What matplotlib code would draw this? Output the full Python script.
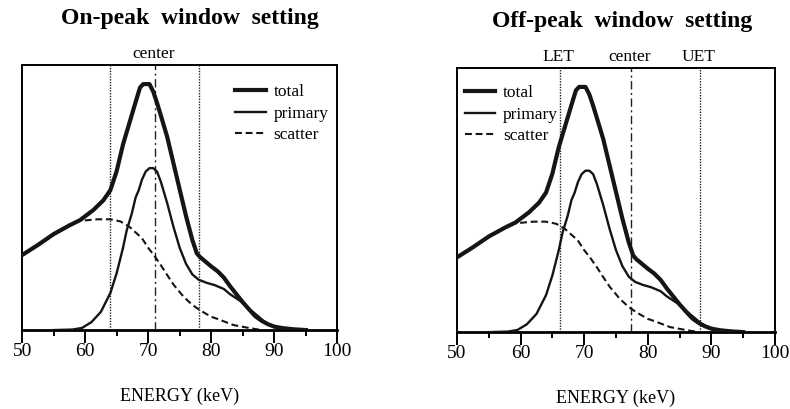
import matplotlib
matplotlib.use("Agg")
import matplotlib.pyplot as plt

plt.rcParams['font.family'] = ['Liberation Serif', 'DejaVu Serif']

# energy spectra (arbitrary units, axis height = 1)
energy_total = [50, 52.5, 55, 57.5, 59.2, 61.3, 62.9, 64, 65, 66, 67, 68, 68.7, 69.2, 70.2, 70.8,
                71.4, 72, 73, 74, 75, 75.5, 76, 77, 77.7, 78.2, 79, 80, 81, 82, 83, 84, 85, 86,
                87, 88, 89, 90, 91.4, 93, 95]
total = [0.283, 0.321, 0.362, 0.395, 0.415, 0.453, 0.49, 0.528, 0.60, 0.70, 0.78, 0.86, 0.915,
         0.928, 0.928, 0.90, 0.857, 0.81, 0.73, 0.63, 0.53, 0.48, 0.43, 0.34, 0.29, 0.276, 0.26,
         0.24, 0.222, 0.198, 0.165, 0.135, 0.105, 0.078, 0.052, 0.035, 0.022, 0.013, 0.007,
         0.003, 0.0]

energy_primary = [55, 58, 59.5, 61, 62.5, 64, 65, 66, 66.6, 67.4, 68, 68.5, 69, 69.6, 70.2, 70.8,
                  71.4, 72, 73, 74, 75, 76, 77, 78, 79.3, 80.5, 82, 83, 84.6, 86, 87.3, 88.5, 90,
                  92, 95]
primary = [0.0, 0.002, 0.008, 0.03, 0.069, 0.14, 0.215, 0.31, 0.377, 0.44, 0.50, 0.528, 0.567,
           0.598, 0.611, 0.611, 0.598, 0.56, 0.48, 0.39, 0.31, 0.25, 0.21, 0.19, 0.178, 0.17,
           0.155, 0.135, 0.11, 0.08, 0.055, 0.03, 0.012, 0.003, 0.0]

energy_scatter = [58.3, 59.2, 62, 64, 65.6, 67, 67.6, 69, 70, 70.9, 72, 73, 74, 75.6, 77, 78.2, 80,
                  81, 83.5, 86.2, 88]
scatter = [0.405, 0.412, 0.418, 0.418, 0.41, 0.39, 0.377, 0.347, 0.31, 0.283, 0.245, 0.208, 0.172,
           0.126, 0.095, 0.075, 0.05, 0.042, 0.019, 0.007, 0.0]

titles = ['On-peak  window  setting', 'Off-peak  window  setting']
dash_dot = (0, (6, 2.5, 1.5, 2.5))
dotted = (0, (1, 1))
# (position, style, label) of window marker lines
windows = [
    [(64, dotted, ''), (71, dash_dot, 'center'), (78, dotted, '')],
    [(66.2, dotted, 'LET'), (77.3, dash_dot, 'center'), (88.2, dotted, 'UET')],
]
label_x = [[None, 70.8, None], [65.9, 77.2, 87.9]]
legend_anchor = [(0.676, 0.928), (0.025, 0.935)]
axes_pos = [[0.028, 0.193, 0.399, 0.648], [0.5785, 0.188, 0.4025, 0.646]]
title_pos = [(0.240, 0.955), (0.787, 0.948)]

fig = plt.figure(figsize=(7.9, 4.09), dpi=100)

for i in range(2):
    ax = fig.add_axes(axes_pos[i])
    ax.plot(energy_total, total, color='#151515', lw=3.0, label='total', zorder=3,
            solid_joinstyle='round')
    ax.plot(energy_primary, primary, color='#151515', lw=1.7, label='primary', zorder=3,
            solid_joinstyle='round')
    ax.plot(energy_scatter, scatter, color='#151515', lw=1.5, ls=(0, (3.3, 1.8)), label='scatter',
            zorder=2.5)
    for j, (x, style, lab) in enumerate(windows[i]):
        ax.axvline(x, color='#222222', lw=1.0, ls=style, zorder=2)
        if lab:
            ax.text(label_x[i][j], 1.012, lab, ha='center', va='bottom', fontsize=12.5,
                    transform=ax.get_xaxis_transform())
    ax.set_xlim(50, 100)
    ax.set_ylim(0, 1)
    ax.set_xticks(range(50, 101, 10))
    ax.set_xticks(range(55, 100, 10), minor=True)
    ax.set_yticks([])
    ax.tick_params(axis='x', which='major', direction='out', length=9, width=1.4, labelsize=14, pad=0.5)
    ax.tick_params(axis='x', which='minor', direction='out', length=4, width=1.4)
    for s in ax.spines.values():
        s.set_linewidth(1.4)
    ax.spines['bottom'].set_linewidth(2.0)
    ax.set_xlabel('ENERGY (keV)', fontsize=13, labelpad=20)
    ax.legend(loc='upper left', bbox_to_anchor=legend_anchor[i], frameon=False, fontsize=12.5,
              handlelength=1.75, labelspacing=0.31, handletextpad=0.45, borderpad=0,
              borderaxespad=0)

for (x, y), t in zip(title_pos, titles):
    fig.text(x, y, t, ha='center', va='center', fontsize=17, fontweight='bold')

plt.savefig('out.png', dpi=100)
